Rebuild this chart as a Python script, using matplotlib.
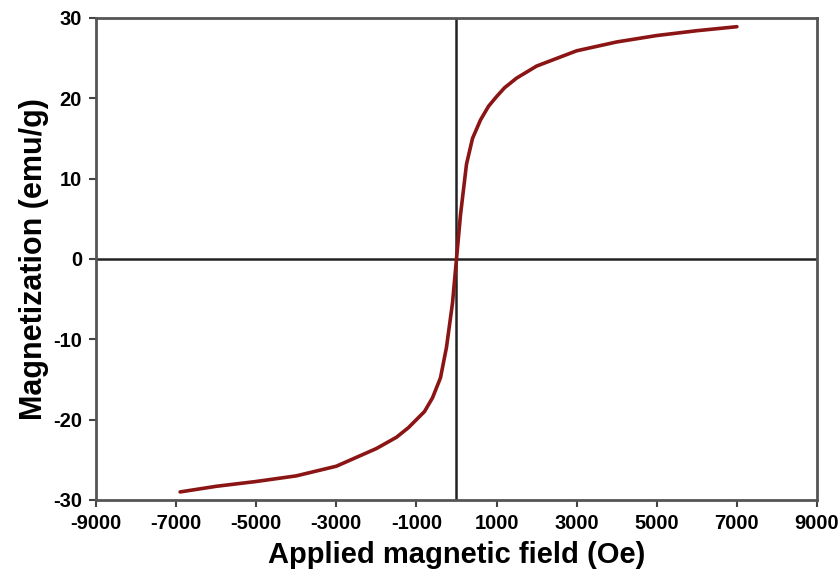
import numpy as np
import matplotlib.pyplot as plt

# applied field (Oe) and magnetization (emu/g)
field = [-6900, -6000, -5000, -4000, -3000, -2000, -1500, -1200, -1000, -800,
         -600, -400, -250, -100, 0, 100, 250, 400, 600, 800,
         1000, 1200, 1500, 2000, 3000, 4000, 5000, 6000, 7000]
magn = [-29.0, -28.3, -27.7, -27.0, -25.8, -23.6, -22.2, -21.0, -20.0, -19.0,
        -17.3, -14.8, -11.0, -5.5, 0.0, 5.5, 11.8, 15.0, 17.3, 19.0,
        20.2, 21.3, 22.5, 24.0, 25.9, 27.0, 27.8, 28.4, 28.9]

xticks = np.arange(-9000, 9001, 2000)
yticks = np.arange(-30, 31, 10)

plt.rcParams['font.family'] = ['Liberation Sans', 'DejaVu Sans']
plt.rcParams['font.weight'] = 'bold'
plt.rcParams['axes.unicode_minus'] = False

fig = plt.figure(figsize=(8.4, 5.76), dpi=100)
ax = fig.add_axes([0.1143, 0.132, 0.8583, 0.837])

ax.axhline(0, color='#222222', lw=1.8, zorder=1)
ax.axvline(0, color='#222222', lw=1.8, zorder=1)
ax.plot(field, magn, color='#8b1515', lw=2.6, zorder=3,
        solid_joinstyle='round', solid_capstyle='round')

ax.set_xlim(-9000, 9000)
ax.set_ylim(-30, 30)
ax.set_xticks(xticks)
ax.set_yticks(yticks)
ax.tick_params(direction='out', length=5, width=1.5, color='#444444',
               labelsize=14.5, pad=5)
for lab in ax.get_xticklabels() + ax.get_yticklabels():
    lab.set_fontweight('bold')
for sp in ax.spines.values():
    sp.set_color('#555555')
    sp.set_linewidth(2)

ax.set_xlabel('Applied magnetic field (Oe)', fontsize=21, fontweight='bold', labelpad=6)
ax.set_ylabel('Magnetization (emu/g)', fontsize=22, fontweight='bold', labelpad=3)

fig.savefig('out.png', dpi=100)
